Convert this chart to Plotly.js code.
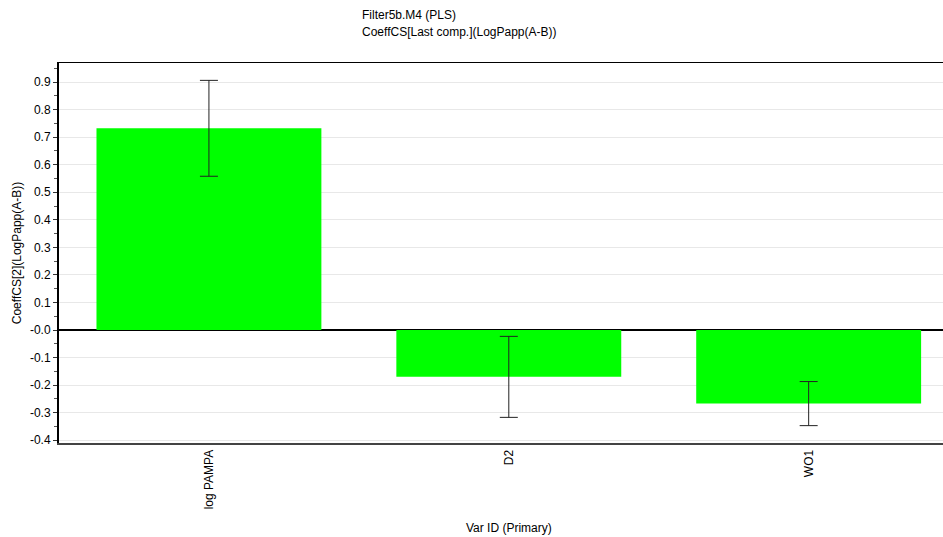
<!DOCTYPE html>
<html>
<head>
<meta charset="utf-8">
<script src="https://cdn.plot.ly/plotly-3.0.1.min.js"></script>
<style>html,body{margin:0;padding:0;overflow:hidden;background:#fff}#chart{width:943px;height:537px}</style>
</head>
<body>
<div id="chart"></div>
<script>
const categories = ["log PAMPA", "D2", "WO1"];
const coefficients = [0.732, -0.170, -0.267];
const errors = [0.174, 0.147, 0.080];
const yTickValues = [-0.4, -0.3, -0.2, -0.1, 0, 0.1, 0.2, 0.3, 0.4, 0.5, 0.6, 0.7, 0.8, 0.9];
const yTickLabels = ["-0.4", "-0.3", "-0.2", "-0.1", "-0.0", "0.1", "0.2", "0.3", "0.4", "0.5", "0.6", "0.7", "0.8", "0.9"];
const titleLines = ["Filter5b.M4 (PLS)", "CoeffCS[Last comp.](LogPapp(A-B))"];

const font = {family: "Liberation Sans, Arial, sans-serif", size: 12, color: "#000"};

const trace = {
  type: "bar",
  x: categories,
  y: coefficients,
  width: 0.75,
  marker: {color: "#00ff00", line: {width: 0}},
  error_y: {type: "data", array: errors, visible: true, color: "#222", thickness: 1, width: 9},
  hoverinfo: "x+y"
};

const layout = {
  width: 943, height: 537,
  margin: {l: 59, r: 0, t: 63, b: 94},
  paper_bgcolor: "#fff", plot_bgcolor: "#fff",
  font: font,
  showlegend: false,
  xaxis: {
    type: "category",
    range: [-0.5, 2.448],
    tickangle: -90,
    tickfont: font,
    showgrid: false,
    zeroline: false,
    showline: true, linecolor: "#444", linewidth: 2,
    mirror: false,
    ticks: "",
    automargin: false
  },
  xaxis2: {overlaying: "x", side: "top", showline: true, linecolor: "#000", linewidth: 1.5, showticklabels: false, ticks: "", showgrid: false, zeroline: false, range: [0,1]},
  yaxis: {
    range: [-0.41, 0.969],
    tickvals: yTickValues,
    ticktext: yTickLabels,
    tickfont: font,
    ticks: "outside", ticklen: 4, tickcolor: "#333", tickwidth: 1,
    minor: {dtick: 0.05, tick0: 0.05, ticks: "outside", ticklen: 3, tickcolor: "#555", showgrid: false},
    showgrid: true, gridcolor: "#e8e8e8", gridwidth: 1,
    zeroline: true, zerolinecolor: "#000", zerolinewidth: 1.5,
    showline: true, linecolor: "#000", linewidth: 2,
    title: {text: "CoeffCS[2](LogPapp(A-B))", font: font, standoff: 6},
    automargin: false
  },
  annotations: [
    {text: titleLines[0], xref: "paper", yref: "paper", x: 0.3405, y: 1.126, xanchor: "left", yanchor: "middle", showarrow: false, font: font},
    {text: titleLines[1], xref: "paper", yref: "paper", x: 0.3405, y: 1.0816, xanchor: "left", yanchor: "middle", showarrow: false, font: font},
    {text: "Var ID (Primary)", xref: "paper", yref: "paper", x: (508.5 - 59) / 884, y: -0.224, xanchor: "center", yanchor: "middle", showarrow: false, font: font}
  ]
};

const topBorder = {type: "scatter", x: [0, 1], y: [0, 0], xaxis: "x2", yaxis: "y", mode: "none", hoverinfo: "skip", showlegend: false};

Plotly.newPlot("chart", [trace, topBorder], layout, {displayModeBar: false, staticPlot: true});
</script>
</body>
</html>
